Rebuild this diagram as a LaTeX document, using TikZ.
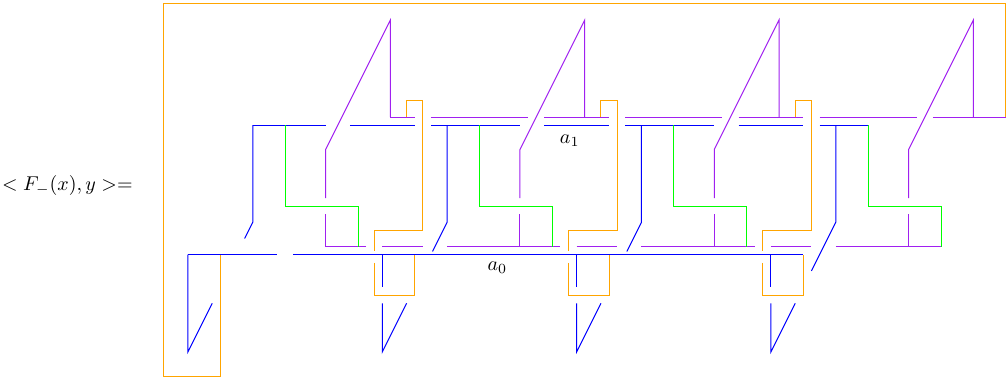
\documentclass[tikz,border=0pt]{standalone}
\usepackage{amsmath}
\usepackage{xcolor}
\usepackage{tikz}

\definecolor{strandorange}{RGB}{255,165,0}
\definecolor{strandpurple}{RGB}{160,32,240}
\definecolor{strandgreen}{RGB}{0,255,0}
\definecolor{strandblue}{RGB}{0,0,255}
\tikzset{
  bluestrand/.style={draw=strandblue, line width=0.5pt},
  purplestrand/.style={draw=strandpurple, line width=0.5pt},
  greenstrand/.style={draw=strandgreen, line width=0.5pt},
  orangestrand/.style={draw=strandorange, line width=0.5pt},
}

\begin{document}
\begin{tikzpicture}[x=4.0485pt, y=-4.0485pt]
    \useasboundingbox (-81.85pt,1.85pt) rectangle (421.15pt,-186.65pt);

    \node (Fleft) at (-11.9,22.4) {$<F_{-}(x),y>=$};
    \node (aone) at (50.15,16.95) {$a_1$};
    \node (azero) at (41.2,32.65) {$a_0$};

    % outer frame
    \draw[orangestrand] (7,31) -- (7,46) -- (0,46) -- (0,0) -- (104,0) -- (104,14);

    % upper horizontal pair
    \draw[purplestrand] (28,14) -- (31,14);
    \draw[purplestrand] (33,14) -- (45,14);
    \draw[purplestrand] (47,14) -- (55,14);
    \draw[purplestrand] (57,14) -- (69,14);
    \draw[purplestrand] (71,14) -- (79,14);
    \draw[purplestrand] (81,14) -- (93,14);
    \draw[purplestrand] (95,14) -- (104,14);

    \draw[bluestrand] (11,15) -- (20,15);
    \draw[bluestrand] (23,15) -- (31,15);
    \draw[bluestrand] (33,15) -- (44,15);
    \draw[bluestrand] (47,15) -- (55,15);
    \draw[bluestrand] (57,15) -- (68,15);
    \draw[bluestrand] (71,15) -- (79,15);
    \draw[bluestrand] (81,15) -- (87,15);

    % lower horizontal pair
    \draw[purplestrand] (27,30) -- (32,30);
    \draw[purplestrand] (35,30) -- (49,30);
    \draw[purplestrand] (51,30) -- (56,30);
    \draw[purplestrand] (59,30) -- (73,30);
    \draw[purplestrand] (75,30) -- (80,30);
    \draw[purplestrand] (83,30) -- (96,30);

    \draw[bluestrand] (3,31) -- (14,31);
    \draw[bluestrand] (16,31) -- (79,31);

    % purple loops
    \draw[purplestrand] (25,30) -- (20,30) -- (20,26);
    \draw[purplestrand] (20,24) -- (20,18) -- (28,2) -- (28,14);
    \draw[purplestrand] (44,30) -- (44,26);
    \draw[purplestrand] (44,24) -- (44,18) -- (52,2) -- (52,14);
    \draw[purplestrand] (68,30) -- (68,26);
    \draw[purplestrand] (68,24) -- (68,18) -- (76,2) -- (76,14);
    \draw[purplestrand] (92,30) -- (92,26);
    \draw[purplestrand] (92,24) -- (92,18) -- (100,2) -- (100,14);

    % green steps
    \draw[greenstrand] (15,15) -- (15,25) -- (24,25) -- (24,30);
    \draw[greenstrand] (39,15) -- (39,25) -- (48,25) -- (48,30);
    \draw[greenstrand] (63,15) -- (63,25) -- (72,25) -- (72,30);
    \draw[greenstrand] (87,15) -- (87,25) -- (96,25) -- (96,30);

    % blue drops
    \draw[bluestrand] (11,15) -- (11,27) -- (10,29);
    \draw[bluestrand] (35,15) -- (35,27) -- (33.2,30.6);
    \draw[bluestrand] (59,15) -- (59,27) -- (57.2,30.6);
    \draw[bluestrand] (83,15) -- (83,27) -- (80,33);

    % blue hooks
    \draw[bluestrand] (3,31) -- (3,43) -- (6,37);
    \draw[bluestrand] (27,31) -- (27,35);
    \draw[bluestrand] (27,37) -- (27,43) -- (30,37);
    \draw[bluestrand] (51,31) -- (51,35);
    \draw[bluestrand] (51,37) -- (51,43) -- (54,37);
    \draw[bluestrand] (75,31) -- (75,35);
    \draw[bluestrand] (75,37) -- (75,43) -- (78,37);

    % orange strands
    \draw[orangestrand] (30,14) -- (30,12) -- (32,12) -- (32,28) -- (26,28) -- (26,30.6);
    \draw[orangestrand] (26,32) -- (26,36) -- (31,36) -- (31,31);
    \draw[orangestrand] (54,14) -- (54,12) -- (56,12) -- (56,28) -- (50,28) -- (50,30.6);
    \draw[orangestrand] (50,32) -- (50,36) -- (55,36) -- (55,31);
    \draw[orangestrand] (78,14) -- (78,12) -- (80,12) -- (80,28) -- (74,28) -- (74,30.6);
    \draw[orangestrand] (74,32) -- (74,36) -- (79,36) -- (79,31);
\end{tikzpicture}
\end{document}
